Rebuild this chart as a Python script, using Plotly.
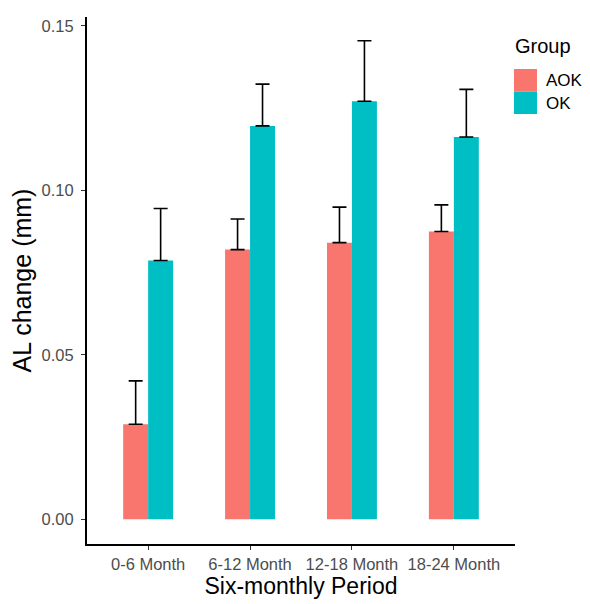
import plotly.graph_objects as go

categories = ["0-6 Month", "6-12 Month", "12-18 Month", "18-24 Month"]
groups = ["AOK", "OK"]
aok_mean = [0.0289, 0.0820, 0.0841, 0.0875]
aok_err = [0.0132, 0.0093, 0.0108, 0.0081]
ok_mean = [0.0787, 0.1196, 0.1271, 0.1162]
ok_err = [0.0158, 0.0127, 0.0184, 0.0145]
colors = ["#F8766D", "#00BFC4"]
y_ticks = [0.00, 0.05, 0.10, 0.15]

FONT = "Liberation Sans, Arial, sans-serif"
W, H = 590, 604
OFF = 8  # page body margin offset
L, T = 87 - OFF, 17 - OFF
R, B = W - (515 - OFF), H - (544 - OFF)
PW, PH = W - L - R, H - T - B

def px2x(p):
    return (p - OFF - L) / PW

def py2y(p):
    return 1 - (p - OFF - T) / PH

fig = go.Figure()
for name, mean, err, col in zip(groups, [aok_mean, ok_mean], [aok_err, ok_err], colors):
    fig.add_trace(go.Bar(
        x=categories, y=mean, name=name, marker=dict(color=col, line=dict(width=0)),
        error_y=dict(type="data", array=err, arrayminus=[0] * len(err), symmetric=False,
                     color="black", thickness=1.6, width=7),
        showlegend=False,
    ))

fig.update_layout(
    width=W, height=H,
    margin=dict(l=L, r=R, t=T, b=B, pad=0, autoexpand=False),
    paper_bgcolor="white", plot_bgcolor="white",
    barmode="group", bargap=0.51, bargroupgap=0,
    font=dict(family=FONT, color="black"),
    xaxis=dict(
        range=[-0.6, 3.6], showgrid=False, zeroline=False, automargin=False,
        showline=True, linecolor="black", linewidth=2,
        ticks="outside", ticklen=4, tickwidth=1.2, tickcolor="#333333",
        tickfont=dict(size=16.5, color="#4D4D4D", family=FONT),
        title=dict(text="Six-monthly Period", font=dict(size=23, color="black", family=FONT), standoff=5),
    ),
    yaxis=dict(
        range=[-0.0075, 0.1527], showgrid=False, zeroline=False, automargin=False,
        showline=True, linecolor="black", linewidth=2,
        tickvals=y_ticks, tickformat=".2f",
        ticks="outside", ticklen=4, tickwidth=1.2, tickcolor="#333333", ticklabelstandoff=4,
        tickfont=dict(size=16.5, color="#4D4D4D", family=FONT),
        title=dict(text="AL change (mm)", font=dict(size=25, color="black", family=FONT), standoff=11),
    ),
)

# manual legend (ggplot style)
LX = 514
fig.add_annotation(x=px2x(LX - 1), y=py2y(46), xref="paper", yref="paper", text="Group",
                   showarrow=False, xanchor="left", yanchor="middle",
                   font=dict(size=20, color="black", family=FONT))
for i, (name, col) in enumerate(zip(groups, colors)):
    top = 69 + i * 22.5
    fig.add_shape(type="rect", xref="paper", yref="paper",
                  x0=px2x(LX), x1=px2x(LX + 23), y0=py2y(top), y1=py2y(top + 22.5),
                  fillcolor=col, line=dict(width=0))
    fig.add_annotation(x=px2x(LX + 30), y=py2y(top + 11.5), xref="paper", yref="paper", text=name,
                       showarrow=False, xanchor="left", yanchor="middle",
                       font=dict(size=17, color="black", family=FONT))

fig.write_html("out.html")
